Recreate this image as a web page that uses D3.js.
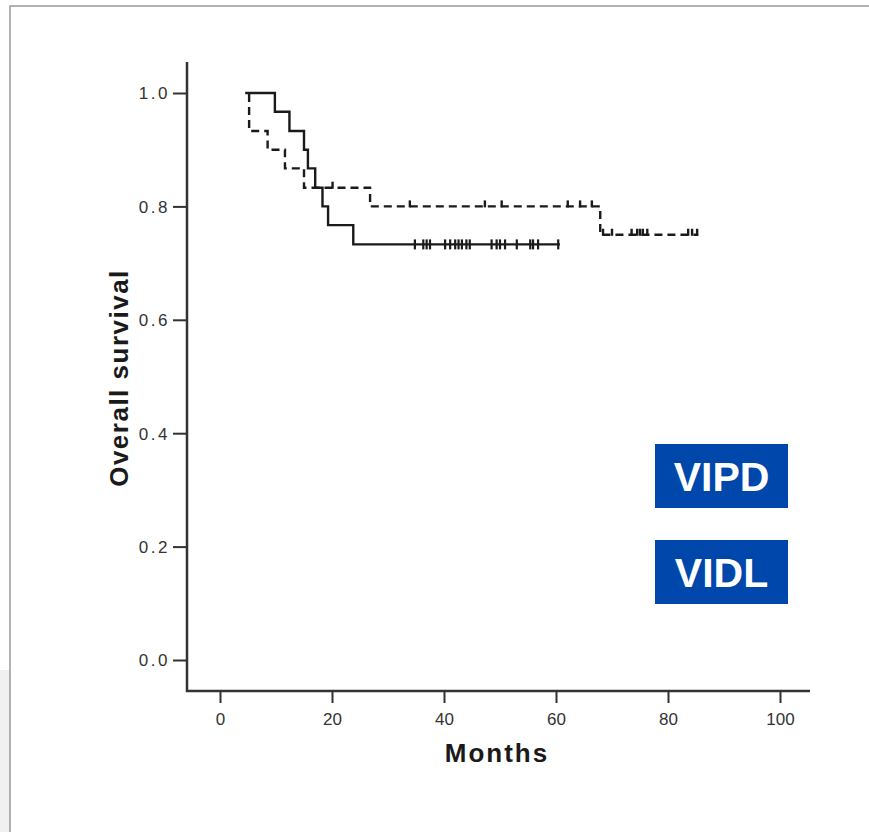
<!DOCTYPE html>
<html>
<head>
<meta charset="utf-8">
<script src="https://cdn.jsdelivr.net/npm/d3@7"></script>
<style>
  body { margin: 0; background: #fff; }
  svg { display: block; font-family: 'Liberation Sans', Arial, sans-serif; }
</style>
</head>
<body>
<svg id="chart" width="869" height="832"></svg>
<script>
// ---- data ----
// solid curve: start, then [month, survival after drop]
var solidStart = 4.5, solidEnd = 60.7;
var solidDrops = [[9.8, 0.967], [12.4, 0.933], [15.0, 0.9], [15.7, 0.867], [17.0, 0.833],
                  [18.3, 0.8], [19.3, 0.767], [23.8, 0.733]];
var solidCensor = [34.8, 36.3, 36.9, 37.5, 40.2, 41.1, 42.0, 42.6, 43.2, 44.0, 44.6,
                   48.5, 49.4, 50.0, 50.9, 53.0, 55.4, 55.9, 56.8, 60.4];

// dashed curve
var dashStart = 4.5, dashEnd = 85.4;
var dashDrops = [[5.2, 0.933], [8.5, 0.9], [11.6, 0.867], [15.0, 0.833], [26.8, 0.8], [67.9, 0.75]];
var dashCensor = [20.1, 33.9, 47.3, 50.3, 62.1, 64.3, 66.4, 68.4, 70.0, 73.5, 74.5, 75.0,
                  75.5, 76.3, 83.6, 84.3, 85.2];

var xTicks = [0, 20, 40, 60, 80, 100];
var yTicks = [0, 0.2, 0.4, 0.6, 0.8, 1.0];
var legendLabels = ['VIPD', 'VIDL'];

var svg = d3.select('#chart');

// page frame
svg.append('rect').attr('x', 0).attr('y', 670).attr('width', 10).attr('height', 162).attr('fill', '#f0f0f0');
svg.append('path').attr('d', 'M10,832V6H869').attr('fill', 'none').attr('stroke', '#9a9a9a').attr('stroke-width', 1.5);

var x = d3.scaleLinear().domain([0, 100]).range([220, 780]);
var y = d3.scaleLinear().domain([0, 1]).range([660, 93]);

// axes
var yAxis = svg.append('g').attr('transform', 'translate(187,0)')
  .call(d3.axisLeft(y).tickValues(yTicks).tickSize(14).tickSizeOuter(0).tickFormat(d3.format('.1f')));
var xAxis = svg.append('g').attr('transform', 'translate(0,691)')
  .call(d3.axisBottom(x).tickValues(xTicks).tickSize(12).tickSizeOuter(0));
[yAxis, xAxis].forEach(function(a){
  a.select('.domain').remove();
  a.selectAll('line').attr('stroke', '#333').attr('stroke-width', 2);
});
yAxis.selectAll('text').attr('x', -17).attr('dy', '0.35em').style('font-size', '17px')
  .style('letter-spacing', '2.5px').attr('fill', '#333');
xAxis.selectAll('text').attr('y', 22).attr('dy', '0.71em').style('font-size', '17px').attr('fill', '#333');

svg.append('path').attr('d', 'M187,62V691H810').attr('fill', 'none').attr('stroke', '#333').attr('stroke-width', 2.5);

// axis titles
svg.append('text').attr('x', 497).attr('y', 762).attr('text-anchor', 'middle')
  .style('font-size', '26px').style('font-weight', 'bold').style('letter-spacing', '2px')
  .attr('fill', '#1a1a1a').text('Months');
svg.append('text').attr('transform', 'translate(128,378) rotate(-90)').attr('text-anchor', 'middle')
  .style('font-size', '26px').style('font-weight', 'bold').style('letter-spacing', '1.5px')
  .attr('fill', '#1a1a1a').text('Overall survival');

// Kaplan-Meier step paths
function stepPoints(start, drops, end) {
  var pts = [[start, 1]];
  drops.forEach(function(d){ pts.push([d[0], d[1]]); });
  pts.push([end, drops[drops.length - 1][1]]);
  return pts;
}
function survAt(drops, t) {
  var s = 1;
  drops.forEach(function(d){ if (d[0] <= t) s = d[1]; });
  return s;
}
var line = d3.line().x(function(d){ return x(d[0]); }).y(function(d){ return y(d[1]); }).curve(d3.curveStepAfter);

svg.append('path').datum(stepPoints(dashStart, dashDrops, dashEnd)).attr('d', line)
  .attr('fill', 'none').attr('stroke', '#1a1a1a').attr('stroke-width', 2.4)
  .attr('stroke-dasharray', '8,5').attr('stroke-dashoffset', 8);
svg.append('path').datum(stepPoints(solidStart, solidDrops, solidEnd)).attr('d', line)
  .attr('fill', 'none').attr('stroke', '#1a1a1a').attr('stroke-width', 2.4);

// censor marks
svg.selectAll('.cs').data(solidCensor).enter().append('line').attr('class', 'cs')
  .attr('x1', function(d){ return x(d); }).attr('x2', function(d){ return x(d); })
  .attr('y1', function(d){ return y(survAt(solidDrops, d)) - 5; })
  .attr('y2', function(d){ return y(survAt(solidDrops, d)) + 5; })
  .attr('stroke', '#1a1a1a').attr('stroke-width', 2.2);
svg.selectAll('.cd').data(dashCensor).enter().append('line').attr('class', 'cd')
  .attr('x1', function(d){ return x(d); }).attr('x2', function(d){ return x(d); })
  .attr('y1', function(d){ return y(survAt(dashDrops, d)) - 6; })
  .attr('y2', function(d){ return y(survAt(dashDrops, d)) + 1; })
  .attr('stroke', '#1a1a1a').attr('stroke-width', 2.4);

// legend boxes
var leg = svg.selectAll('.leg').data(legendLabels).enter().append('g').attr('class', 'leg')
  .attr('transform', function(d, i){ return 'translate(655,' + (444 + i * 96) + ')'; });
leg.append('rect').attr('width', 133).attr('height', 64).attr('fill', '#0047ab');
leg.append('text').attr('x', 66.5).attr('y', 47).attr('text-anchor', 'middle')
  .style('font-size', '41px').style('font-weight', 'bold').attr('fill', '#fff')
  .text(function(d){ return d; });
</script>
</body>
</html>
